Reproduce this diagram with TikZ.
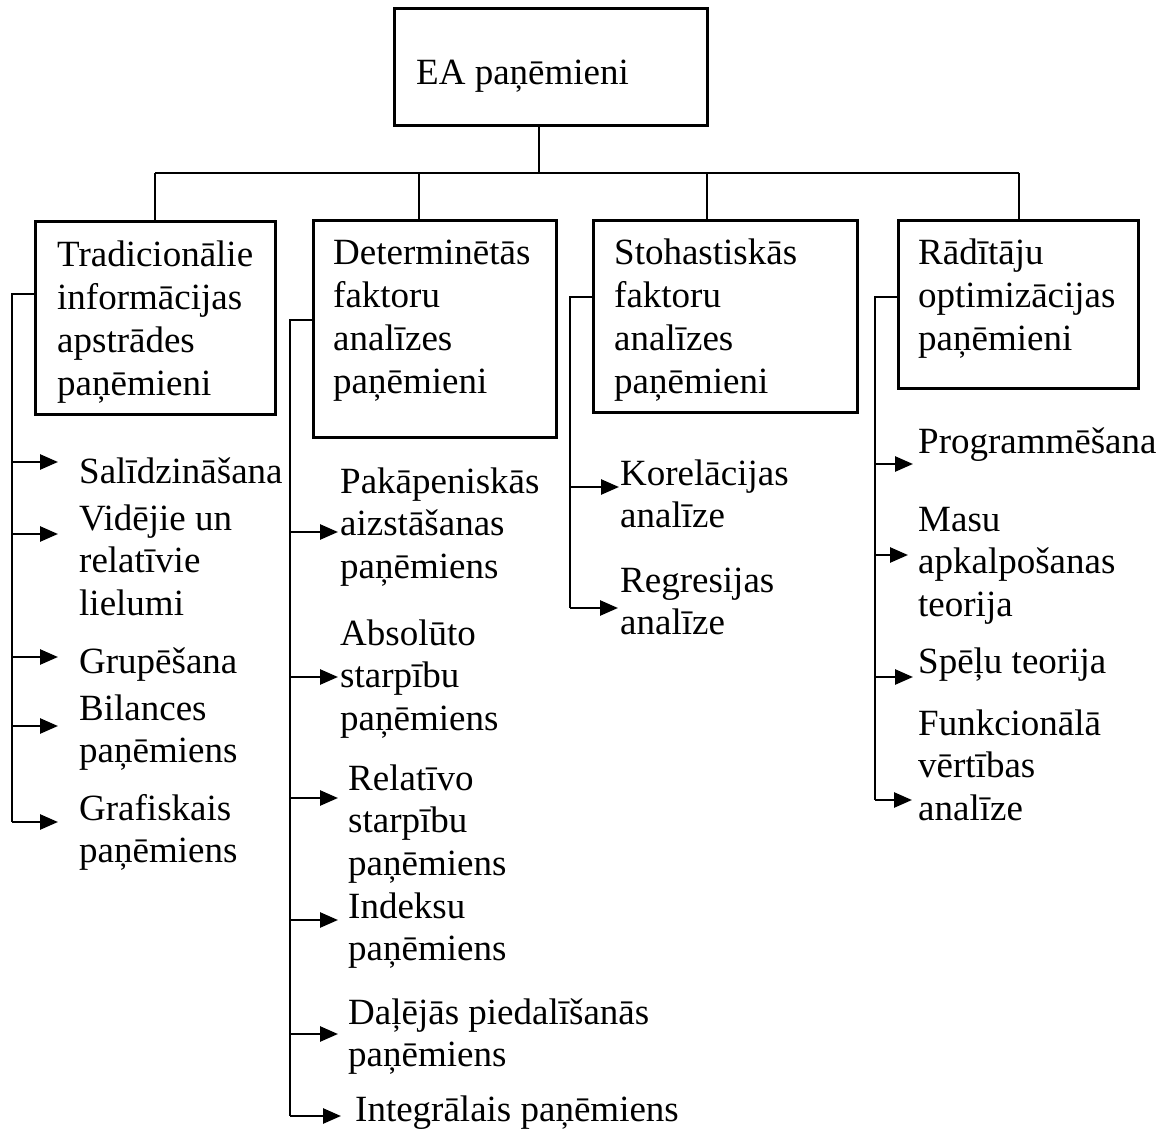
\documentclass[tikz,border=0pt]{standalone}
\usepackage{fontspec}
\setmainfont{Liberation Serif}
\usetikzlibrary{arrows.meta}
% left-aligned block of lines whose baseline is the first line's baseline
\newcommand\linesL[1]{\vtop{\lineskiplimit=-100pt\halign{##\hfil\cr#1\crcr}}}
\begin{document}
\begin{tikzpicture}[x=1pt,y=-1pt,
  box/.style={draw,line width=3pt,rectangle,inner sep=0pt},
  conn/.style={line width=2.6pt},
  arr/.style={line width=2.6pt,-{Triangle[length=18pt 0 0,width=15pt 0 0]}},
  lbl/.style={anchor=base west,inner sep=0pt,font=\fontsize{37}{43}\selectfont},
  leaf/.style={anchor=base west,inner sep=0pt,font=\fontsize{37}{42.5}\selectfont}]
\useasboundingbox[fill=white] (0,0) rectangle (1169,1131);

% boxes
\node[box,minimum width=313pt,minimum height=117pt] (top) at (550.5,67.5) {};
\node[box,minimum width=240pt,minimum height=192pt] (b1) at (155,318) {};
\node[box,minimum width=243pt,minimum height=216pt] (b2) at (434.5,329) {};
\node[box,minimum width=264pt,minimum height=191pt] (b3) at (725,316.5) {};
\node[box,minimum width=240pt,minimum height=167pt] (b4) at (1018,304.5) {};

% box captions
\node[lbl] (topT) at (416,85) {EA paņēmieni};
\node[lbl] (b1T) at (57,267) {\linesL{Tradicionālie\cr informācijas\cr apstrādes\cr paņēmieni}};
\node[lbl] (b2T) at (333,265) {\linesL{Determinētās\cr faktoru\cr analīzes\cr paņēmieni}};
\node[lbl] (b3T) at (614,265) {\linesL{Stohastiskās\cr faktoru\cr analīzes\cr paņēmieni}};
\node[lbl] (b4T) at (918,265) {\linesL{Rādītāju\cr optimizācijas\cr paņēmieni}};

% bus from the top box to the four groups
\coordinate (bus) at (539,173);
\coordinate (d1) at (155,173);
\coordinate (d2) at (419,173);
\coordinate (d3) at (707,173);
\coordinate (d4) at (1019,173);
\draw[conn] (bus |- top.south) -- (bus);
\draw[conn] (d1) -- (d4);
\draw[conn] (d1) -- (d1 |- b1.north);
\draw[conn] (d2) -- (d2 |- b2.north);
\draw[conn] (d3) -- (d3 |- b3.north);
\draw[conn] (d4) -- (d4 |- b4.north);

% group 1
\node[leaf] (l11) at (79,483) {Salīdzināšana};
\node[leaf] (l12) at (79,530) {\linesL{Vidējie un\cr relatīvie\cr lielumi}};
\node[leaf] (l13) at (79,673) {Grupēšana};
\node[leaf] (l14) at (79,720) {\linesL{Bilances\cr paņēmiens}};
\node[leaf] (l15) at (79,820) {\linesL{Grafiskais\cr paņēmiens}};
\coordinate (k1) at (12,294);
\coordinate (a11) at (58,462);
\coordinate (a12) at (58,534);
\coordinate (a13) at (58,657);
\coordinate (a14) at (58,726);
\coordinate (a15) at (58,822);
\draw[conn] (k1 -| b1.west) -- (k1) -- (k1 |- a15);
\foreach \t in {a11,a12,a13,a14,a15} \draw[arr] (k1 |- \t) -- (\t);

% group 2
\node[leaf] (l21) at (340,493) {\linesL{Pakāpeniskās\cr aizstāšanas\cr paņēmiens}};
\node[leaf] (l22) at (340,645) {\linesL{Absolūto\cr starpību\cr paņēmiens}};
\node[leaf] (l23) at (348,790) {\linesL{Relatīvo\cr starpību\cr paņēmiens}};
\node[leaf] (l24) at (348,918) {\linesL{Indeksu\cr paņēmiens}};
\node[leaf] (l25) at (348,1024) {\linesL{Daļējās piedalīšanās\cr paņēmiens}};
\node[leaf] (l26) at (355,1121) {Integrālais paņēmiens};
\coordinate (k2) at (290,320);
\coordinate (a21) at (338,532);
\coordinate (a22) at (338,677);
\coordinate (a23) at (338,798);
\coordinate (a24) at (338,920);
\coordinate (a25) at (338,1034);
\coordinate (a26) at (341,1116);
\draw[conn] (k2 -| b2.west) -- (k2) -- (k2 |- a26);
\foreach \t in {a21,a22,a23,a24,a25,a26} \draw[arr] (k2 |- \t) -- (\t);

% group 3
\node[leaf] (l31) at (620,485) {\linesL{Korelācijas\cr analīze}};
\node[leaf] (l32) at (620,592) {\linesL{Regresijas\cr analīze}};
\coordinate (k3) at (570,297);
\coordinate (a31) at (619,487);
\coordinate (a32) at (618,608);
\draw[conn] (k3 -| b3.west) -- (k3) -- (k3 |- a32);
\foreach \t in {a31,a32} \draw[arr] (k3 |- \t) -- (\t);

% group 4
\node[leaf] (l41) at (918,453) {Programmēšana};
\node[leaf] (l42) at (918,531) {\linesL{Masu\cr apkalpošanas\cr teorija}};
\node[leaf] (l43) at (918,673) {Spēļu teorija};
\node[leaf] (l44) at (918,735) {\linesL{Funkcionālā\cr vērtības\cr analīze}};
\coordinate (k4) at (875,297);
\coordinate (a41) at (913,464);
\coordinate (a42) at (908,555);
\coordinate (a43) at (913,677);
\coordinate (a44) at (912,800);
\draw[conn] (k4 -| b4.west) -- (k4) -- (k4 |- a44);
\foreach \t in {a41,a42,a43,a44} \draw[arr] (k4 |- \t) -- (\t);
\end{tikzpicture}
\end{document}
